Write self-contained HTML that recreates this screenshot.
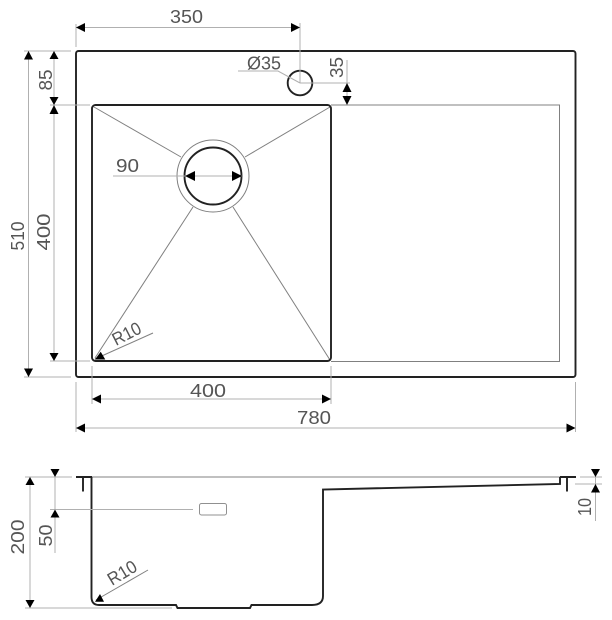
<!DOCTYPE html>
<html>
<head>
<meta charset="utf-8">
<style>
html,body{margin:0;padding:0;background:#fff;}
svg{display:block;}
text{font-family:"Liberation Sans",sans-serif;font-size:18px;fill:#555;}
.d{stroke:#b0b0b0;stroke-width:1;fill:none;}
.m{stroke:#808080;stroke-width:1;fill:none;}
.k{stroke:#222;stroke-width:1.9;fill:none;}
.a{fill:#000;stroke:none;}
</style>
</head>
<body>
<svg width="612" height="620" viewBox="0 0 612 620" xmlns="http://www.w3.org/2000/svg">
<!-- top view shapes -->
<rect class="k" x="76" y="51" width="499.5" height="326" rx="2.5"/>
<path class="m" d="M331 105H559.5V361.5H331"/>
<path class="m" d="M94 107L181 157M330 107L245 157M95 358L193 207M330 360L233 207"/>
<rect class="k" x="92" y="105" width="239" height="256" rx="3.5"/>
<circle cx="213" cy="176" r="36" fill="none" stroke="#808080" stroke-width="1"/>
<circle cx="213" cy="176" r="28.5" fill="none" stroke="#222" stroke-width="1.9"/>
<circle cx="300" cy="83" r="12.3" fill="none" stroke="#222" stroke-width="1.9"/>
<!-- top dims -->
<path class="d" d="M76 27.5H300M76 24V47M300 23V83"/>
<path class="a" d="M76 27.5L85 23V32ZM300 27.5L291 23V32Z"/>
<path class="d" d="M28.5 51V377M24 51H71M24 377H71"/>
<path class="a" d="M28.5 51L24 59.5H33ZM28.5 377L24 368.5H33Z"/>
<path class="d" d="M54 51V361M50 105H90M50 361H90"/>
<path class="a" d="M54 51L49.5 59H58.5ZM54 105L49.5 97H58.5ZM54 105L49.5 114H58.5ZM54 361L49.5 353H58.5Z"/>
<path class="d" d="M92 399H331M92 366V404M331 366V404"/>
<path class="a" d="M92 399L101 394.5V403.5ZM331 399L322 394.5V403.5Z"/>
<path class="d" d="M76 428H575.5M76 382V432M575.5 382V432"/>
<path class="a" d="M76 428L85 423.5V432.5ZM575.5 428L566.5 423.5V432.5Z"/>
<path class="d" d="M347 60V105M300 83H350"/>
<path class="a" d="M347 83L342.5 92H351.5ZM347 105L342.5 96H351.5Z"/>
<path class="d" d="M238 71H278L300 83"/>
<path class="d" d="M113 176H242"/>
<path class="a" d="M185 176L195 171V181ZM242 176L232 171V181Z"/>
<path class="m" d="M95 359L153 333"/>
<path class="a" d="M95 359.5L100.7 351.7L105.3 359.5Z"/>
<!-- top labels -->
<text x="170" y="23" textLength="33" lengthAdjust="spacingAndGlyphs">350</text>
<text x="247" y="69.5" textLength="34" lengthAdjust="spacingAndGlyphs">Ø35</text>
<text x="116" y="172" textLength="23" lengthAdjust="spacingAndGlyphs">90</text>
<text transform="translate(52 90.5) rotate(-90)" textLength="21" lengthAdjust="spacingAndGlyphs">85</text>
<text transform="translate(343 78) rotate(-90)" textLength="21" lengthAdjust="spacingAndGlyphs">35</text>
<text transform="translate(24 250.5) rotate(-90)" textLength="29" lengthAdjust="spacingAndGlyphs">510</text>
<text transform="translate(50 250.5) rotate(-90)" textLength="37" lengthAdjust="spacingAndGlyphs">400</text>
<text x="190" y="397" textLength="36" lengthAdjust="spacingAndGlyphs">400</text>
<text x="297" y="424" textLength="34" lengthAdjust="spacingAndGlyphs">780</text>
<text transform="translate(116 346) rotate(-27)" textLength="30" lengthAdjust="spacingAndGlyphs">R10</text>
<!-- bottom view -->
<path class="m" d="M92 477H561"/>
<path class="k" d="M76 477H92M83 477V491.5M91.5 477V597Q91.5 605 99 605H176L177.5 608H250L251.5 605H312Q323 605 323 596V489.5L560 484V477M560 477H576M567 477V491.5"/>
<path class="d" d="M30 477V607M25 477H72M25 608H172"/>
<path class="a" d="M30 477L25.5 485H34.5ZM30 608L25.5 600H34.5Z"/>
<path class="d" d="M55 472V553M50 509.5H193"/>
<path class="a" d="M55 477L50.5 469H59.5ZM55 509.5L50.5 517.5H59.5Z"/>
<rect x="199.5" y="503.5" width="27" height="11.5" rx="2" fill="none" stroke="#909090" stroke-width="1"/>
<path class="d" d="M595.5 472V521M580 477H602M575 484H602"/>
<path class="a" d="M595.5 477L591 469H600ZM595.5 484L591 492.5H600Z"/>
<path class="m" d="M96 600L148 570"/>
<path class="a" d="M95 601.7L100 594L104 601.7Z"/>
<text transform="translate(24 554.5) rotate(-90)" textLength="35" lengthAdjust="spacingAndGlyphs">200</text>
<text transform="translate(52 546.5) rotate(-90)" textLength="22" lengthAdjust="spacingAndGlyphs">50</text>
<text transform="translate(591 516) rotate(-90)" textLength="18" lengthAdjust="spacingAndGlyphs">10</text>
<text transform="translate(112 586) rotate(-31)" textLength="31" lengthAdjust="spacingAndGlyphs">R10</text>
</svg>
</body>
</html>
